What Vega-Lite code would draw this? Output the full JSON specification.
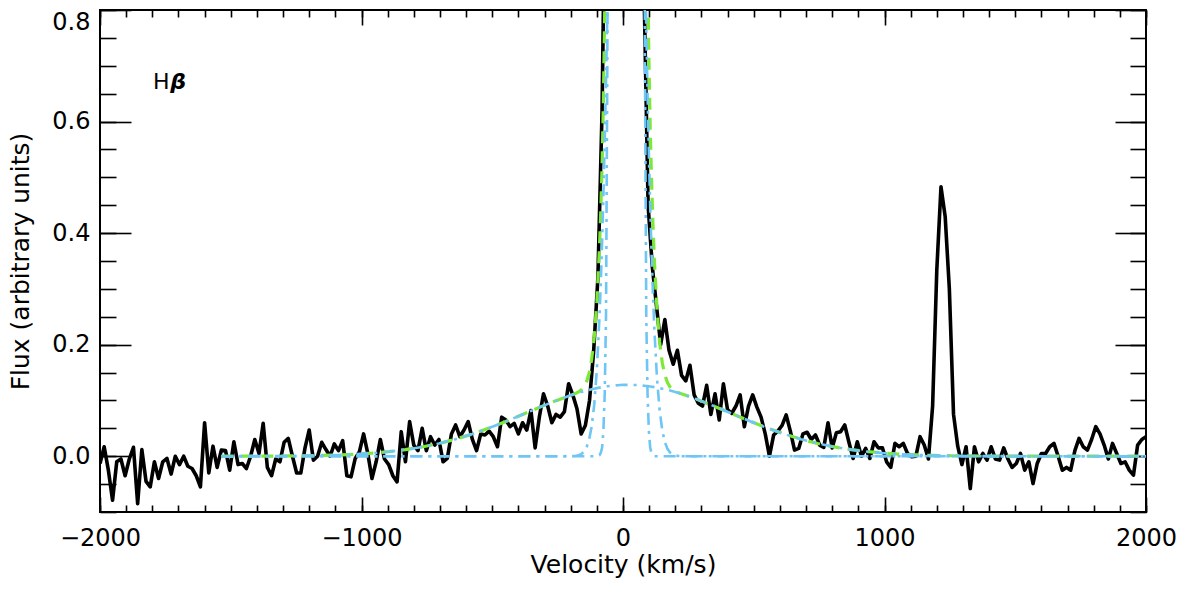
{
  "$schema": "https://vega.github.io/schema/vega-lite/v6.json",
  "width": 1046,
  "height": 502,
  "autosize": "none",
  "padding": {"left": 100, "top": 10, "right": 33, "bottom": 77},
  "background": "white",
  "config": {
    "view": {"stroke": "black", "strokeWidth": 2},
    "axis": {
      "labelFont": "DejaVu Sans", "labelFontSize": 24, "labelColor": "black",
      "titleFont": "DejaVu Sans", "titleFontSize": 25, "titleFontWeight": "normal", "titleColor": "black",
      "tickColor": "black", "tickWidth": 1.6, "domain": false, "grid": false,
      "labelFlush": false, "labelOverlap": false
    }
  },
  "resolve": {"axis": {"x": "independent", "y": "independent"}},
  "datasets": {
    "obs": [
      {"v":-2000,"flux":-0.013},{"v":-1984,"flux":0.017},{"v":-1968,"flux":-0.025},{"v":-1952,"flux":-0.079},{"v":-1936,"flux":-0.01},
      {"v":-1920,"flux":-0.005},{"v":-1904,"flux":-0.035},{"v":-1888,"flux":-0.005},{"v":-1872,"flux":0.016},{"v":-1856,"flux":-0.085},
      {"v":-1840,"flux":0.012},{"v":-1824,"flux":-0.045},{"v":-1808,"flux":-0.055},{"v":-1792,"flux":-0.01},{"v":-1776,"flux":-0.04},
      {"v":-1760,"flux":-0.01},{"v":-1744,"flux":-0.004},{"v":-1728,"flux":-0.032},{"v":-1712,"flux":0.0},{"v":-1696,"flux":-0.015},
      {"v":-1680,"flux":0.0},{"v":-1664,"flux":-0.018},{"v":-1648,"flux":-0.022},{"v":-1632,"flux":-0.035},{"v":-1616,"flux":-0.055},
      {"v":-1600,"flux":0.06},{"v":-1584,"flux":-0.03},{"v":-1568,"flux":0.018},{"v":-1552,"flux":-0.02},{"v":-1536,"flux":0.011},
      {"v":-1520,"flux":0.01},{"v":-1504,"flux":-0.025},{"v":-1488,"flux":0.026},{"v":-1472,"flux":-0.015},{"v":-1456,"flux":-0.013},
      {"v":-1440,"flux":-0.022},{"v":-1424,"flux":0.0},{"v":-1408,"flux":0.03},{"v":-1392,"flux":0.005},{"v":-1376,"flux":0.059},
      {"v":-1360,"flux":-0.02},{"v":-1344,"flux":-0.035},{"v":-1328,"flux":-0.005},{"v":-1312,"flux":-0.01},{"v":-1296,"flux":0.025},
      {"v":-1280,"flux":0.032},{"v":-1264,"flux":0.0},{"v":-1248,"flux":-0.03},{"v":-1232,"flux":-0.03},{"v":-1216,"flux":0.015},
      {"v":-1200,"flux":0.047},{"v":-1184,"flux":-0.007},{"v":-1168,"flux":0.0},{"v":-1152,"flux":0.025},{"v":-1136,"flux":0.012},
      {"v":-1120,"flux":0.0},{"v":-1104,"flux":0.022},{"v":-1088,"flux":0.01},{"v":-1072,"flux":0.028},{"v":-1056,"flux":-0.035},
      {"v":-1040,"flux":-0.037},{"v":-1024,"flux":-0.004},{"v":-1008,"flux":0.008},{"v":-992,"flux":0.04},{"v":-976,"flux":0.005},
      {"v":-960,"flux":-0.04},{"v":-944,"flux":-0.01},{"v":-928,"flux":0.03},{"v":-912,"flux":-0.005},{"v":-896,"flux":-0.015},
      {"v":-880,"flux":-0.035},{"v":-864,"flux":-0.046},{"v":-848,"flux":0.044},{"v":-832,"flux":-0.01},{"v":-816,"flux":0.062},
      {"v":-800,"flux":0.02},{"v":-784,"flux":0.01},{"v":-768,"flux":0.05},{"v":-752,"flux":0.01},{"v":-736,"flux":0.035},
      {"v":-720,"flux":0.02},{"v":-704,"flux":0.03},{"v":-688,"flux":-0.01},{"v":-672,"flux":-0.004},{"v":-656,"flux":0.04},
      {"v":-640,"flux":0.056},{"v":-624,"flux":0.035},{"v":-608,"flux":0.047},{"v":-592,"flux":0.062},{"v":-576,"flux":0.03},
      {"v":-560,"flux":0.01},{"v":-544,"flux":0.04},{"v":-528,"flux":0.038},{"v":-512,"flux":0.045},{"v":-496,"flux":0.035},
      {"v":-480,"flux":0.017},{"v":-464,"flux":0.07},{"v":-448,"flux":0.065},{"v":-432,"flux":0.053},{"v":-416,"flux":0.059},
      {"v":-400,"flux":0.04},{"v":-384,"flux":0.06},{"v":-368,"flux":0.047},{"v":-352,"flux":0.082},{"v":-336,"flux":0.015},
      {"v":-320,"flux":0.07},{"v":-304,"flux":0.112},{"v":-288,"flux":0.09},{"v":-272,"flux":0.06},{"v":-256,"flux":0.075},
      {"v":-240,"flux":0.07},{"v":-224,"flux":0.08},{"v":-208,"flux":0.13},{"v":-192,"flux":0.11},{"v":-176,"flux":0.085},
      {"v":-160,"flux":0.04},{"v":-144,"flux":0.055},{"v":-128,"flux":0.1},{"v":-112,"flux":0.19},{"v":-96,"flux":0.32},
      {"v":-80,"flux":0.62},{"v":-64,"flux":1.2},{"v":-48,"flux":1.8},{"v":-32,"flux":2.3},{"v":-16,"flux":2.6},
      {"v":0,"flux":2.7},{"v":16,"flux":2.6},{"v":32,"flux":2.3},{"v":48,"flux":1.8},{"v":64,"flux":1.25},
      {"v":80,"flux":0.85},{"v":96,"flux":0.45},{"v":112,"flux":0.34},{"v":128,"flux":0.27},{"v":144,"flux":0.2},
      {"v":160,"flux":0.245},{"v":176,"flux":0.19},{"v":192,"flux":0.165},{"v":208,"flux":0.19},{"v":224,"flux":0.145},
      {"v":240,"flux":0.135},{"v":256,"flux":0.163},{"v":272,"flux":0.11},{"v":288,"flux":0.095},{"v":304,"flux":0.09},
      {"v":320,"flux":0.127},{"v":336,"flux":0.075},{"v":352,"flux":0.112},{"v":368,"flux":0.065},{"v":384,"flux":0.13},
      {"v":400,"flux":0.083},{"v":416,"flux":0.077},{"v":432,"flux":0.09},{"v":448,"flux":0.11},{"v":464,"flux":0.053},
      {"v":480,"flux":0.09},{"v":496,"flux":0.11},{"v":512,"flux":0.088},{"v":528,"flux":0.07},{"v":544,"flux":0.04},
      {"v":560,"flux":0.0},{"v":576,"flux":0.038},{"v":592,"flux":0.045},{"v":608,"flux":0.055},{"v":624,"flux":0.074},
      {"v":640,"flux":0.045},{"v":656,"flux":0.011},{"v":672,"flux":0.014},{"v":688,"flux":0.04},{"v":704,"flux":0.043},
      {"v":720,"flux":0.03},{"v":736,"flux":0.038},{"v":752,"flux":0.02},{"v":768,"flux":0.016},{"v":784,"flux":0.06},
      {"v":800,"flux":0.015},{"v":816,"flux":0.042},{"v":832,"flux":0.044},{"v":848,"flux":0.056},{"v":864,"flux":0.025},
      {"v":880,"flux":-0.004},{"v":896,"flux":0.026},{"v":912,"flux":0.0},{"v":928,"flux":0.014},{"v":944,"flux":-0.004},
      {"v":960,"flux":0.026},{"v":976,"flux":0.015},{"v":992,"flux":0.015},{"v":1008,"flux":-0.01},{"v":1024,"flux":-0.02},
      {"v":1040,"flux":0.023},{"v":1056,"flux":0.017},{"v":1072,"flux":0.023},{"v":1088,"flux":0.005},{"v":1104,"flux":-0.001},
      {"v":1120,"flux":0.0},{"v":1136,"flux":0.035},{"v":1152,"flux":0.02},{"v":1168,"flux":-0.005},{"v":1184,"flux":0.09},
      {"v":1200,"flux":0.334},{"v":1216,"flux":0.483},{"v":1232,"flux":0.43},{"v":1248,"flux":0.3},{"v":1264,"flux":0.075},
      {"v":1280,"flux":0.018},{"v":1296,"flux":-0.015},{"v":1312,"flux":0.017},{"v":1328,"flux":-0.058},{"v":1344,"flux":0.017},
      {"v":1360,"flux":-0.01},{"v":1376,"flux":0.005},{"v":1392,"flux":-0.007},{"v":1408,"flux":0.017},{"v":1424,"flux":-0.005},
      {"v":1440,"flux":-0.007},{"v":1456,"flux":0.015},{"v":1472,"flux":-0.005},{"v":1488,"flux":-0.02},{"v":1504,"flux":-0.013},
      {"v":1520,"flux":0.005},{"v":1536,"flux":-0.025},{"v":1552,"flux":-0.01},{"v":1568,"flux":-0.049},{"v":1584,"flux":-0.013},
      {"v":1600,"flux":0.005},{"v":1616,"flux":0.005},{"v":1632,"flux":0.017},{"v":1648,"flux":0.023},{"v":1664,"flux":0.0},
      {"v":1680,"flux":-0.025},{"v":1696,"flux":-0.02},{"v":1712,"flux":-0.025},{"v":1728,"flux":0.01},{"v":1744,"flux":0.032},
      {"v":1760,"flux":0.017},{"v":1776,"flux":0.011},{"v":1792,"flux":0.03},{"v":1808,"flux":0.053},{"v":1824,"flux":0.04},
      {"v":1840,"flux":0.02},{"v":1856,"flux":-0.005},{"v":1872,"flux":0.023},{"v":1888,"flux":0.005},{"v":1904,"flux":-0.013},
      {"v":1920,"flux":-0.01},{"v":1936,"flux":-0.025},{"v":1952,"flux":-0.034},{"v":1968,"flux":0.02},{"v":1984,"flux":0.03},
      {"v":2000,"flux":0.035}
    ],
    "model": [
      {"v":-1536,"broad":0.00004,"n1":0,"n2":0,"total":0.00004},
      {"v":-1472,"broad":0.00009,"n1":0,"n2":0,"total":0.00009},
      {"v":-1408,"broad":0.00016,"n1":0,"n2":0,"total":0.00016},
      {"v":-1344,"broad":0.00028,"n1":0,"n2":0,"total":0.00028},
      {"v":-1280,"broad":0.0005,"n1":0,"n2":0,"total":0.0005},
      {"v":-1216,"broad":0.00084,"n1":0,"n2":0,"total":0.00084},
      {"v":-1152,"broad":0.0014,"n1":0,"n2":0,"total":0.0014},
      {"v":-1088,"broad":0.00226,"n1":0,"n2":0,"total":0.00226},
      {"v":-1024,"broad":0.00356,"n1":0,"n2":0,"total":0.00356},
      {"v":-960,"broad":0.00545,"n1":0,"n2":0,"total":0.00545},
      {"v":-896,"broad":0.00812,"n1":0,"n2":0,"total":0.00812},
      {"v":-832,"broad":0.01177,"n1":0,"n2":0,"total":0.01177},
      {"v":-768,"broad":0.01663,"n1":0,"n2":0,"total":0.01663},
      {"v":-704,"broad":0.02285,"n1":0,"n2":0,"total":0.02285},
      {"v":-640,"broad":0.03058,"n1":0,"n2":0,"total":0.03058},
      {"v":-576,"broad":0.03982,"n1":0,"n2":0,"total":0.03982},
      {"v":-512,"broad":0.05048,"n1":0,"n2":0,"total":0.05048},
      {"v":-448,"broad":0.06231,"n1":0,"n2":0,"total":0.06231},
      {"v":-384,"broad":0.07485,"n1":0,"n2":0,"total":0.07485},
      {"v":-320,"broad":0.08754,"n1":0,"n2":0,"total":0.08754},
      {"v":-256,"broad":0.09965,"n1":0,"n2":0,"total":0.09965},
      {"v":-200,"broad":0.10917,"n1":0,"n2":0.00013,"total":0.1093},
      {"v":-190,"broad":0.11072,"n1":0,"n2":0.00031,"total":0.1110},
      {"v":-180,"broad":0.11223,"n1":0,"n2":0.00074,"total":0.1130},
      {"v":-170,"broad":0.11368,"n1":0,"n2":0.00168,"total":0.1154},
      {"v":-160,"broad":0.11507,"n1":0,"n2":0.00365,"total":0.1187},
      {"v":-150,"broad":0.1164,"n1":0,"n2":0.00759,"total":0.1240},
      {"v":-140,"broad":0.11767,"n1":0,"n2":0.01513,"total":0.1328},
      {"v":-130,"broad":0.11887,"n1":0,"n2":0.02889,"total":0.1478},
      {"v":-120,"broad":0.12001,"n1":0,"n2":0.0528,"total":0.1728},
      {"v":-110,"broad":0.12108,"n1":0,"n2":0.0924,"total":0.2135},
      {"v":-100,"broad":0.12209,"n1":0,"n2":0.155,"total":0.2771},
      {"v":-90,"broad":0.12301,"n1":0.002,"n2":0.2487,"total":0.3737},
      {"v":-85,"broad":0.12344,"n1":0.006,"n2":0.31,"total":0.4394},
      {"v":-80,"broad":0.12387,"n1":0.015,"n2":0.3822,"total":0.5211},
      {"v":-75,"broad":0.12426,"n1":0.045,"n2":0.466,"total":0.6353},
      {"v":-70,"broad":0.12463,"n1":0.11,"n2":0.5625,"total":0.7971},
      {"v":-65,"broad":0.12499,"n1":0.25,"n2":0.671,"total":1.046},
      {"v":-60,"broad":0.12534,"n1":0.7,"n2":0.7925,"total":1.618},
      {"v":-50,"broad":0.12596,"n1":2.0,"n2":1.069,"total":3.195},
      {"v":-40,"broad":0.12649,"n1":3.5,"n2":1.381,"total":5.007},
      {"v":-30,"broad":0.12695,"n1":4.2,"n2":1.708,"total":6.035},
      {"v":-20,"broad":0.12733,"n1":4.6,"n2":2.023,"total":6.75},
      {"v":-10,"broad":0.12762,"n1":4.85,"n2":2.295,"total":7.273},
      {"v":0,"broad":0.12783,"n1":4.97,"n2":2.492,"total":7.59},
      {"v":10,"broad":0.12796,"n1":5.0,"n2":2.591,"total":7.719},
      {"v":20,"broad":0.128,"n1":4.97,"n2":2.58,"total":7.678},
      {"v":30,"broad":0.12796,"n1":4.9,"n2":2.46,"total":7.488},
      {"v":40,"broad":0.12783,"n1":4.7,"n2":2.245,"total":7.073},
      {"v":50,"broad":0.12762,"n1":4.3,"n2":1.962,"total":6.39},
      {"v":60,"broad":0.12733,"n1":3.8,"n2":1.643,"total":5.57},
      {"v":70,"broad":0.12695,"n1":2.6,"n2":1.316,"total":4.043},
      {"v":80,"broad":0.12649,"n1":1.4,"n2":1.01,"total":2.536},
      {"v":84,"broad":0.12629,"n1":0.7,"n2":0.898,"total":1.724},
      {"v":89,"broad":0.12601,"n1":0.25,"n2":0.767,"total":1.143},
      {"v":94,"broad":0.12572,"n1":0.11,"n2":0.648,"total":0.884},
      {"v":99,"broad":0.1254,"n1":0.045,"n2":0.542,"total":0.712},
      {"v":104,"broad":0.12507,"n1":0.015,"n2":0.448,"total":0.588},
      {"v":109,"broad":0.12471,"n1":0.006,"n2":0.367,"total":0.498},
      {"v":114,"broad":0.12434,"n1":0.002,"n2":0.297,"total":0.423},
      {"v":120,"broad":0.12387,"n1":0,"n2":0.2271,"total":0.351},
      {"v":130,"broad":0.12301,"n1":0,"n2":0.1402,"total":0.263},
      {"v":140,"broad":0.12209,"n1":0,"n2":0.0829,"total":0.205},
      {"v":150,"broad":0.12108,"n1":0,"n2":0.04696,"total":0.168},
      {"v":160,"broad":0.12001,"n1":0,"n2":0.02548,"total":0.1455},
      {"v":170,"broad":0.11887,"n1":0,"n2":0.01322,"total":0.1321},
      {"v":180,"broad":0.11767,"n1":0,"n2":0.00657,"total":0.1242},
      {"v":190,"broad":0.1164,"n1":0,"n2":0.00313,"total":0.1195},
      {"v":200,"broad":0.11507,"n1":0,"n2":0.00143,"total":0.1165},
      {"v":210,"broad":0.11368,"n1":0,"n2":0.00062,"total":0.1143},
      {"v":220,"broad":0.11223,"n1":0,"n2":0.00026,"total":0.1125},
      {"v":240,"broad":0.10917,"n1":0,"n2":0.00004,"total":0.1092},
      {"v":296,"broad":0.09965,"n1":0,"n2":0,"total":0.09965},
      {"v":360,"broad":0.08754,"n1":0,"n2":0,"total":0.08754},
      {"v":424,"broad":0.07485,"n1":0,"n2":0,"total":0.07485},
      {"v":488,"broad":0.06231,"n1":0,"n2":0,"total":0.06231},
      {"v":552,"broad":0.05048,"n1":0,"n2":0,"total":0.05048},
      {"v":616,"broad":0.03982,"n1":0,"n2":0,"total":0.03982},
      {"v":680,"broad":0.03058,"n1":0,"n2":0,"total":0.03058},
      {"v":744,"broad":0.02285,"n1":0,"n2":0,"total":0.02285},
      {"v":808,"broad":0.01663,"n1":0,"n2":0,"total":0.01663},
      {"v":872,"broad":0.01177,"n1":0,"n2":0,"total":0.01177},
      {"v":936,"broad":0.00812,"n1":0,"n2":0,"total":0.00812},
      {"v":1000,"broad":0.00545,"n1":0,"n2":0,"total":0.00545},
      {"v":1064,"broad":0.00356,"n1":0,"n2":0,"total":0.00356},
      {"v":1128,"broad":0.00226,"n1":0,"n2":0,"total":0.00226},
      {"v":1192,"broad":0.0014,"n1":0,"n2":0,"total":0.0014},
      {"v":1256,"broad":0.00084,"n1":0,"n2":0,"total":0.00084},
      {"v":1320,"broad":0.0005,"n1":0,"n2":0,"total":0.0005},
      {"v":1384,"broad":0.00028,"n1":0,"n2":0,"total":0.00028},
      {"v":1448,"broad":0.00016,"n1":0,"n2":0,"total":0.00016},
      {"v":1512,"broad":0.00009,"n1":0,"n2":0,"total":0.00009},
      {"v":1576,"broad":0.00004,"n1":0,"n2":0,"total":0.00004},
      {"v":1700,"broad":0,"n1":0,"n2":0,"total":0},
      {"v":1850,"broad":0,"n1":0,"n2":0,"total":0},
      {"v":2000,"broad":0,"n1":0,"n2":0,"total":0}
    ]
  },
  "layer": [
    {
      "data": {"name": "obs"},
      "mark": {"type": "line", "color": "black", "strokeWidth": 3.6, "clip": true, "strokeJoin": "round"},
      "encoding": {
        "x": {"field": "v", "type": "quantitative",
          "scale": {"domain": [-2000, 2000], "nice": false, "zero": false},
          "axis": {"orient": "bottom", "values": [-2000, -1000, 0, 1000, 2000], "format": "d", "ticks": false, "labelPadding": 14,
            "title": "Velocity (km/s)", "titlePadding": 2}},
        "y": {"field": "flux", "type": "quantitative",
          "scale": {"domain": [-0.1, 0.8], "nice": false, "zero": false},
          "axis": {"orient": "left", "values": [0, 0.2, 0.4, 0.6, 0.8], "format": ".1f", "ticks": false, "labelPadding": 10, "labelFlush": true,
            "title": "Flux (arbitrary units)", "titlePadding": 18}}
      }
    },
    {
      "data": {"name": "model"},
      "mark": {"type": "line", "color": "#7DE835", "strokeWidth": 3.2, "strokeDash": [12, 8], "clip": true},
      "encoding": {
        "x": {"field": "v", "type": "quantitative",
          "scale": {"domain": [-2000, 2000], "nice": false, "zero": false},
          "axis": {"orient": "bottom", "values": [-2000, -1000, 0, 1000, 2000], "tickSize": -15, "labels": false, "title": null}},
        "y": {"field": "total", "type": "quantitative",
          "scale": {"domain": [-0.1, 0.8], "nice": false, "zero": false},
          "axis": {"orient": "left", "values": [0, 0.2, 0.4, 0.6, 0.8], "tickSize": -31, "labels": false, "title": null}}
      }
    },
    {
      "data": {"name": "model"},
      "mark": {"type": "line", "color": "#6EC6F5", "strokeWidth": 2.6, "strokeDash": [12, 6, 3, 6], "clip": true},
      "encoding": {
        "x": {"field": "v", "type": "quantitative",
          "scale": {"domain": [-2000, 2000], "nice": false, "zero": false},
          "axis": {"orient": "bottom", "values": [-2000,-1900,-1800,-1700,-1600,-1500,-1400,-1300,-1200,-1100,-1000,-900,-800,-700,-600,-500,-400,-300,-200,-100,0,100,200,300,400,500,600,700,800,900,1000,1100,1200,1300,1400,1500,1600,1700,1800,1900,2000], "tickSize": -7, "labels": false, "title": null}},
        "y": {"field": "broad", "type": "quantitative",
          "scale": {"domain": [-0.1, 0.8], "nice": false, "zero": false},
          "axis": {"orient": "left", "values": [-0.1,-0.05,0,0.05,0.1,0.15,0.2,0.25,0.3,0.35,0.4,0.45,0.5,0.55,0.6,0.65,0.7,0.75,0.8], "tickSize": -16, "labels": false, "title": null}}
      }
    },
    {
      "data": {"name": "model"},
      "mark": {"type": "line", "color": "#6EC6F5", "strokeWidth": 2.6, "strokeDash": [12, 6, 3, 6], "clip": true},
      "encoding": {
        "x": {"field": "v", "type": "quantitative",
          "scale": {"domain": [-2000, 2000], "nice": false, "zero": false},
          "axis": {"orient": "top", "values": [-2000, -1000, 0, 1000, 2000], "tickSize": -15, "labels": false, "title": null}},
        "y": {"field": "n1", "type": "quantitative",
          "scale": {"domain": [-0.1, 0.8], "nice": false, "zero": false},
          "axis": {"orient": "right", "values": [0, 0.2, 0.4, 0.6, 0.8], "tickSize": -31, "labels": false, "title": null}}
      }
    },
    {
      "data": {"name": "model"},
      "mark": {"type": "line", "color": "#6EC6F5", "strokeWidth": 2.6, "strokeDash": [12, 6, 3, 6], "clip": true},
      "encoding": {
        "x": {"field": "v", "type": "quantitative",
          "scale": {"domain": [-2000, 2000], "nice": false, "zero": false},
          "axis": {"orient": "top", "values": [-2000,-1900,-1800,-1700,-1600,-1500,-1400,-1300,-1200,-1100,-1000,-900,-800,-700,-600,-500,-400,-300,-200,-100,0,100,200,300,400,500,600,700,800,900,1000,1100,1200,1300,1400,1500,1600,1700,1800,1900,2000], "tickSize": -7, "labels": false, "title": null}},
        "y": {"field": "n2", "type": "quantitative",
          "scale": {"domain": [-0.1, 0.8], "nice": false, "zero": false},
          "axis": {"orient": "right", "values": [-0.1,-0.05,0,0.05,0.1,0.15,0.2,0.25,0.3,0.35,0.4,0.45,0.5,0.55,0.6,0.65,0.7,0.75,0.8], "tickSize": -16, "labels": false, "title": null}}
      }
    },
    {
      "data": {"values": [{"label": "H"}]},
      "mark": {"type": "text", "font": "DejaVu Sans", "fontSize": 22, "align": "left", "baseline": "middle", "color": "black"},
      "encoding": {
        "text": {"field": "label"},
        "x": {"datum": -1797, "type": "quantitative", "scale": {"domain": [-2000, 2000], "nice": false, "zero": false}, "axis": null},
        "y": {"datum": 0.671, "type": "quantitative", "scale": {"domain": [-0.1, 0.8], "nice": false, "zero": false}, "axis": null}
      }
    },
    {
      "data": {"values": [{"label": "β"}]},
      "mark": {"type": "text", "font": "DejaVu Sans", "fontSize": 22, "fontWeight": "bold", "fontStyle": "italic", "align": "left", "baseline": "middle", "color": "black"},
      "encoding": {
        "text": {"field": "label"},
        "x": {"datum": -1731, "type": "quantitative", "scale": {"domain": [-2000, 2000], "nice": false, "zero": false}, "axis": null},
        "y": {"datum": 0.671, "type": "quantitative", "scale": {"domain": [-0.1, 0.8], "nice": false, "zero": false}, "axis": null}
      }
    }
  ]
}
